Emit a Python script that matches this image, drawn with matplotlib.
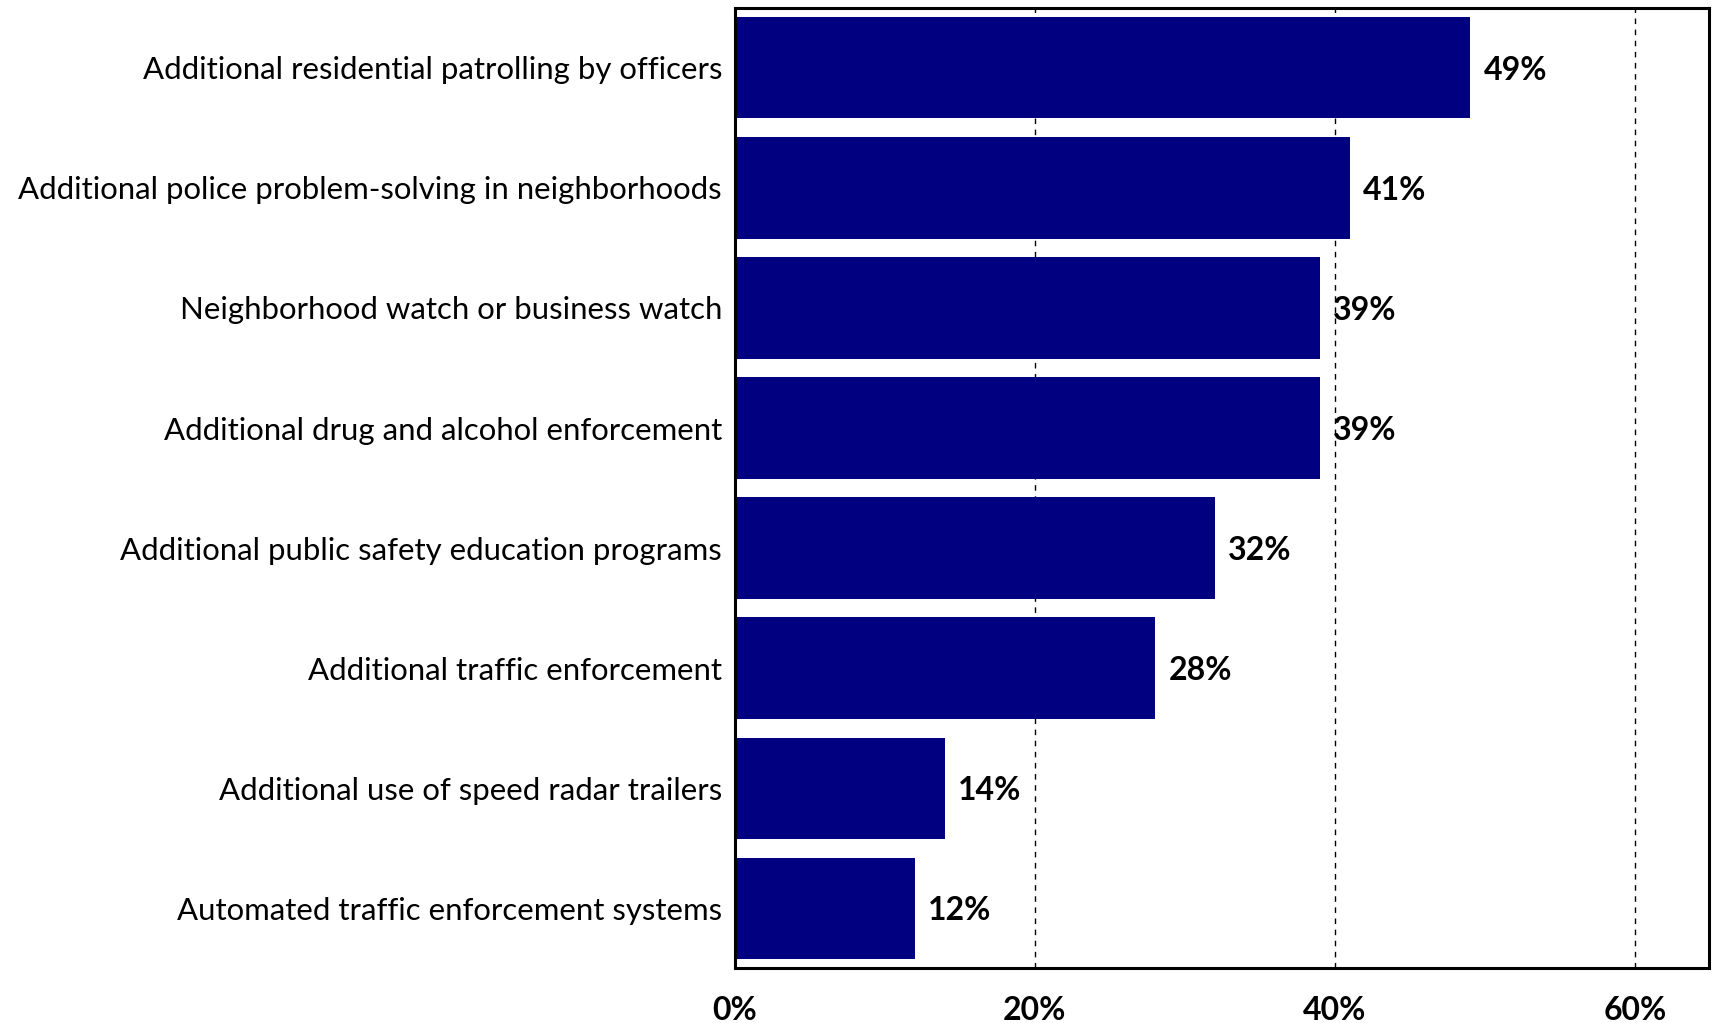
import matplotlib.pyplot as plt

categories = [
    "Additional residential patrolling by officers",
    "Additional police problem-solving in neighborhoods",
    "Neighborhood watch or business watch",
    "Additional drug and alcohol enforcement",
    "Additional public safety education programs",
    "Additional traffic enforcement",
    "Additional use of speed radar trailers",
    "Automated traffic enforcement systems",
]
values = [49, 41, 39, 39, 32, 28, 14, 12]
xticks = [0, 20, 40, 60]

plt.rcParams['font.family'] = ['Lato', 'DejaVu Sans']

fig = plt.figure(figsize=(17.14, 10.23), dpi=100)
ax = fig.add_axes([0.4286, 0.0533, 0.5682, 0.9392])

pos = list(range(len(categories)))
ax.barh(pos, values, height=0.845, color="#000080", zorder=2)

for y, v in zip(pos, values):
    ax.text(v + 0.9, y + 0.02, f"{v}%", va="center", ha="left",
            fontsize=23, fontweight="bold", color="black", zorder=3)

ax.set_xlim(0, 64.9)
ax.set_ylim(7.5, -0.5)
ax.set_xticks(xticks)
ax.set_xticklabels([f"{t}%" for t in xticks], fontsize=23, fontweight="bold")
ax.set_yticks(pos)
ax.set_yticklabels(categories, fontsize=22.4)
ax.tick_params(axis="both", length=0)
ax.tick_params(axis="x", pad=20)
ax.tick_params(axis="y", pad=9)

ax.grid(axis="x", color="black", linestyle=(0, (4, 4)), linewidth=1.0, zorder=1)
ax.set_axisbelow(True)
for s in ax.spines.values():
    s.set_linewidth(2.2)
    s.set_color("black")

fig.savefig("out.png", dpi=100)
